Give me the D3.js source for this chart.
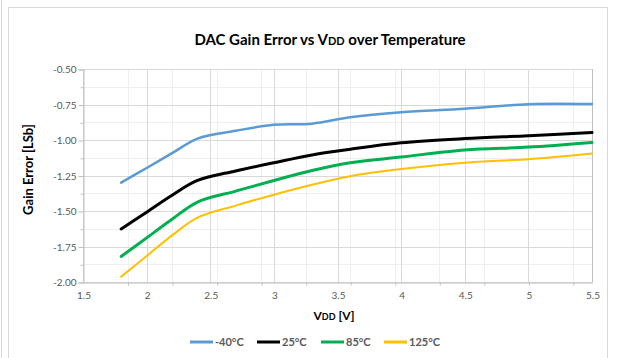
<!DOCTYPE html>
<html>
<head>
<meta charset="utf-8">
<script src="https://cdn.jsdelivr.net/npm/d3@7"></script>
<style>
  html, body { margin: 0; padding: 0; background: #fff; }
  svg { display: block; font-family: Lato, "Open Sans", sans-serif; }
</style>
</head>
<body>
<svg id="chart" width="618" height="358"></svg>
<script>
// Supply voltage points (V)
const vdd = [1.8, 2.0, 2.2, 2.4, 2.7, 3.0, 3.3, 3.6, 4.0, 4.5, 5.0, 5.5];

// Gain error (LSb) per temperature
const series = [
  { name: "-40°C", color: "#5B9BD5", width: 2.5,
    values: [-1.30, -1.197, -1.093, -0.99, -0.935, -0.893, -0.885, -0.84, -0.805, -0.78, -0.748, -0.747] },
  { name: "25°C", color: "#000000", width: 3,
    values: [-1.627, -1.508, -1.389, -1.285, -1.218, -1.16, -1.105, -1.065, -1.02, -0.99, -0.97, -0.948] },
  { name: "85°C", color: "#00B050", width: 3,
    values: [-1.82, -1.689, -1.558, -1.437, -1.36, -1.285, -1.215, -1.16, -1.12, -1.07, -1.05, -1.017] },
  { name: "125°C", color: "#FFC000", width: 2,
    values: [-1.962, -1.817, -1.672, -1.547, -1.462, -1.385, -1.315, -1.255, -1.205, -1.16, -1.135, -1.095] }
];

// Axis ticks
const xTicks = [1.5, 2, 2.5, 3, 3.5, 4, 4.5, 5, 5.5];
const xMinor = [1.85, 2.2, 2.55, 2.9, 3.25, 3.6, 3.95, 4.3, 4.65, 5.0, 5.35];
const yTicks = [-0.5, -0.75, -1.0, -1.25, -1.5, -1.75, -2.0];
const yMinor = [-0.625, -0.875, -1.125, -1.375, -1.625, -1.875];

const svg = d3.select("#chart");
const plot = { left: 83, right: 592, top: 69, bottom: 282 };

const x = d3.scaleLinear().domain([1.5, 5.5]).range([plot.left, plot.right]);
const y = d3.scaleLinear().domain([-2.0, -0.5]).range([plot.bottom, plot.top]);

// Outer chart frame
svg.append("line").attr("x1", 1.5).attr("x2", 1.5).attr("y1", 0).attr("y2", 358)
  .attr("stroke", "#d9d9d9");
svg.append("path").attr("d", "M8.5,358V7.5H607.5V358")
  .attr("fill", "none").attr("stroke", "#d9d9d9");

// Title with small-caps "DD"
const title = svg.append("text").attr("x", 330).attr("y", 45)
  .attr("text-anchor", "middle").attr("font-weight", "bold")
  .attr("font-size", 15).attr("fill", "#000");
title.append("tspan").text("DAC Gain Error vs V");
title.append("tspan").attr("font-size", 11).text("DD");
title.append("tspan").text(" over Temperature");

// Minor gridlines
const g = svg.append("g");
g.selectAll(".xminor").data(xMinor).join("line")
  .attr("x1", d => Math.round(x(d)) + 0.5).attr("x2", d => Math.round(x(d)) + 0.5)
  .attr("y1", plot.top).attr("y2", plot.bottom)
  .attr("stroke", "#efefef");
g.selectAll(".yminor").data(yMinor).join("line")
  .attr("y1", d => Math.round(y(d)) + 0.5).attr("y2", d => Math.round(y(d)) + 0.5)
  .attr("x1", plot.left).attr("x2", plot.right)
  .attr("stroke", "#efefef");

// Major gridlines
g.selectAll(".xmajor").data(xTicks).join("line")
  .attr("x1", d => Math.round(x(d)) + 0.5).attr("x2", d => Math.round(x(d)) + 0.5)
  .attr("y1", plot.top).attr("y2", plot.bottom)
  .attr("stroke", d => d === 5.5 ? "#bfbfbf" : "#d9d9d9");
g.selectAll(".ymajor").data(yTicks).join("line")
  .attr("y1", d => Math.round(y(d)) + 0.5).attr("y2", d => Math.round(y(d)) + 0.5)
  .attr("x1", plot.left).attr("x2", plot.right)
  .attr("stroke", "#d9d9d9");

// Y axis
const yAxis = svg.append("g").attr("transform", `translate(${plot.left + 0.5},0.5)`)
  .call(d3.axisLeft(y).tickValues(yTicks).tickFormat(d3.format(".2f")).tickSize(5).tickPadding(2));
yAxis.select(".domain").attr("stroke", "#bfbfbf");
yAxis.selectAll(".tick line").attr("stroke", "#bfbfbf");
yAxis.selectAll(".tick text").attr("fill", "#595959").attr("font-size", 10)
  .attr("font-family", "Lato, sans-serif").text(d => d3.format(".2f")(d).replace("−", "-"));
svg.append("g").attr("transform", `translate(${plot.left + 0.5},0.5)`)
  .call(d3.axisLeft(y).tickValues(yMinor).tickFormat("").tickSize(3))
  .call(s => { s.select(".domain").remove(); s.selectAll("line").attr("stroke", "#bfbfbf"); });

// X axis
const xAxis = svg.append("g").attr("transform", `translate(0.5,${plot.bottom + 0.5})`)
  .call(d3.axisBottom(x).tickValues(xTicks).tickFormat(d3.format("")).tickSize(0).tickPadding(9));
xAxis.select(".domain").attr("stroke", "#bfbfbf");
xAxis.selectAll(".tick text").attr("fill", "#595959").attr("font-size", 10)
  .attr("font-family", "Lato, sans-serif");
svg.append("g").attr("transform", `translate(0.5,${plot.bottom + 0.5})`)
  .call(d3.axisBottom(x).tickValues(xMinor).tickFormat("").tickSize(3))
  .call(s => { s.select(".domain").remove(); s.selectAll("line").attr("stroke", "#bfbfbf"); });

// Axis titles
svg.append("text")
  .attr("transform", `translate(33,${(plot.top + plot.bottom) / 2 - 6}) rotate(-90)`)
  .attr("text-anchor", "middle").attr("font-weight", "bold").attr("font-size", 13)
  .attr("fill", "#000").text("Gain Error [LSb]");

const xt = svg.append("text").attr("x", 334).attr("y", 320)
  .attr("text-anchor", "middle").attr("font-weight", "bold").attr("font-size", 12).attr("fill", "#000");
xt.append("tspan").text("V");
xt.append("tspan").attr("font-size", 9).text("DD");
xt.append("tspan").text(" [V]");

// Series lines
const line = d3.line().x(d => x(d[0])).y(d => y(d[1])).curve(d3.curveCatmullRom.alpha(0.5));
svg.append("g").selectAll("path").data(series).join("path")
  .attr("d", s => line(vdd.map((v, i) => [v, s.values[i]])))
  .attr("fill", "none")
  .attr("stroke", s => s.color)
  .attr("stroke-width", s => s.width)
  .attr("stroke-linejoin", "round")
  .attr("stroke-linecap", "round");

// Legend
const legendX = [190, 257, 321, 384];
const lg = svg.append("g").selectAll("g").data(series).join("g")
  .attr("transform", (s, i) => `translate(${legendX[i]},342)`);
lg.append("line").attr("x1", 0).attr("x2", 23).attr("y1", 0).attr("y2", 0)
  .attr("stroke", s => s.color).attr("stroke-width", 3);
lg.append("text").attr("x", 25).attr("y", 4).attr("font-size", 11).attr("font-weight", "bold")
  .attr("fill", "#595959").text(s => s.name);
</script>
</body>
</html>
